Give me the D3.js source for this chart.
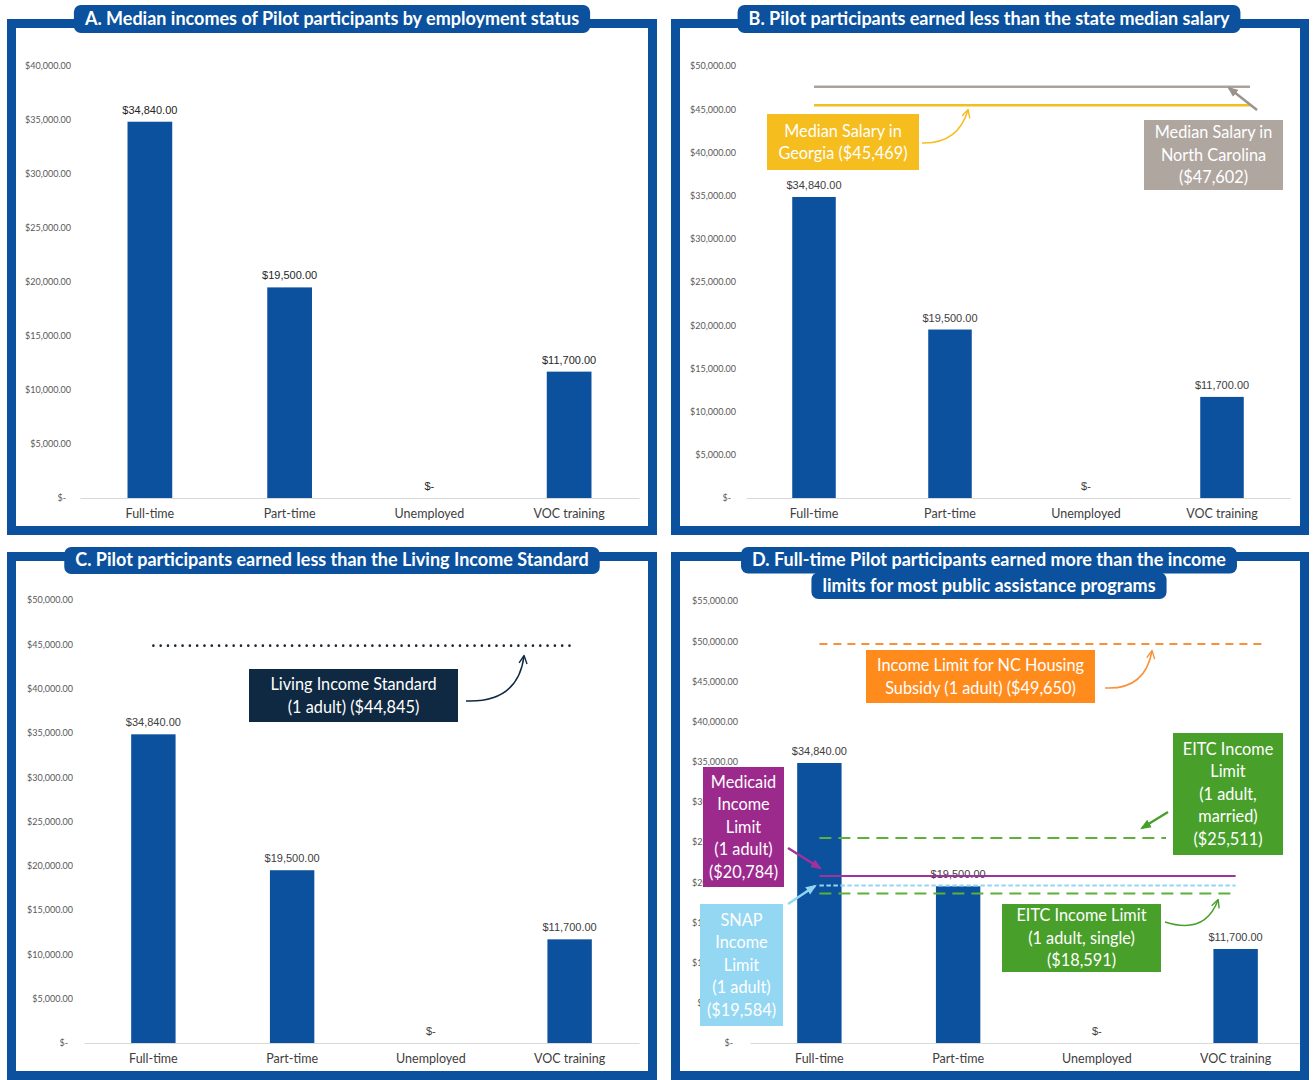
<!DOCTYPE html>
<html>
<head>
<meta charset="utf-8">
<script src="https://cdn.jsdelivr.net/npm/d3@7"></script>
<style>
  body { margin: 0; background: #fff; }
  svg { display: block; font-family: Lato, sans-serif; }
</style>
</head>
<body>
<svg id="chart" width="1313" height="1080"></svg>
<script>
// ---- data ----
const categories = ["Full-time", "Part-time", "Unemployed", "VOC training"];
const medianIncome = [34840, 19500, 0, 11700];

const ticksA = [0, 5000, 10000, 15000, 20000, 25000, 30000, 35000, 40000];
const ticksB = [0, 5000, 10000, 15000, 20000, 25000, 30000, 35000, 40000, 45000, 50000];
const ticksC = [0, 5000, 10000, 15000, 20000, 25000, 30000, 35000, 40000, 45000, 50000];
const ticksD = [0, 5000, 10000, 15000, 20000, 25000, 30000, 35000, 40000, 45000, 50000, 55000];

const salaryNames = ["North Carolina", "Georgia"];
const salaryValues = [47602, 45469];

const livingIncomeValues = [44845];

const limitNames = ["NC Housing Subsidy", "EITC married", "Medicaid", "SNAP", "EITC single"];
const limitValues = [49650, 25511, 20784, 19584, 18591];

// ---- helpers ----
const svg = d3.select("#chart");
const blue = "#0b519d";
const money = d3.format(",.2f");
const fmtTick = d => d === 0 ? "$-" : "$" + money(d);
const fmtLabel = d => d === 0 ? "$-" : "$" + money(d);

const defs = svg.append("defs");
let markerCount = 0;
function marker(color, filled) {
  const id = "m" + (markerCount++);
  const m = defs.append("marker")
    .attr("id", id)
    .attr("viewBox", "0 0 10 10")
    .attr("refX", filled ? 8 : 8.5)
    .attr("refY", 5)
    .attr("markerUnits", "userSpaceOnUse")
    .attr("markerWidth", filled ? 11 : 10)
    .attr("markerHeight", filled ? 11 : 10)
    .attr("orient", "auto");
  if (filled) {
    m.append("path").attr("d", "M0,1 L10,5 L0,9 z").attr("fill", color);
  } else {
    m.append("path").attr("d", "M1,1 L9,5 L1,9")
      .attr("fill", "none").attr("stroke", color).attr("stroke-width", 1.4);
  }
  return "url(#" + id + ")";
}

function drawPanel(p) {
  const g = svg.append("g");
  const [fx0, fy0, fx1, fy1] = p.frame;
  g.append("rect")
    .attr("x", fx0).attr("y", fy0)
    .attr("width", fx1 - fx0).attr("height", fy1 - fy0)
    .attr("fill", "#fff");

  const x = d3.scaleBand().domain(categories).range(p.xRange)
    .paddingInner(0.68).paddingOuter(0.34);
  const y = d3.scaleLinear().domain([0, p.yMax]).range(p.yRange);

  const ya = g.append("g")
    .attr("transform", "translate(" + p.tickX + ",0)")
    .call(d3.axisLeft(y).tickValues(p.ticks).tickSize(0).tickPadding(0).tickFormat(fmtTick));
  ya.select(".domain").remove();
  ya.selectAll("text")
    .attr("font-family", "Lato, sans-serif").attr("font-size", 9).attr("fill", "#595959");
  ya.selectAll(".tick").filter(d => d === 0).select("text").attr("dx", -5);

  const xa = g.append("g")
    .attr("transform", "translate(0," + y(0) + ")")
    .call(d3.axisBottom(x).tickSize(0).tickPadding(11));
  xa.select(".domain").attr("stroke", "#d9d9d9");
  xa.selectAll("text")
    .attr("font-family", "Lato, sans-serif").attr("font-size", 12.5).attr("fill", "#404040");

  g.selectAll(".bar")
    .data(medianIncome)
    .join("rect")
    .attr("class", "bar")
    .attr("x", (d, i) => x(categories[i]))
    .attr("y", d => y(d))
    .attr("width", x.bandwidth())
    .attr("height", d => y(0) - y(d))
    .attr("fill", blue);

  g.selectAll(".val")
    .data(medianIncome)
    .join("text")
    .attr("class", "val")
    .attr("x", (d, i) => x(categories[i]) + x.bandwidth() / 2)
    .attr("y", d => y(d) - 8)
    .attr("text-anchor", "middle")
    .attr("font-family", "'Liberation Sans', Arial, sans-serif")
    .attr("font-size", 11)
    .attr("fill", p.labelColor)
    .text(fmtLabel);

  return { g, x, y, frame: p.frame };
}

// border goes on top so nothing leaks past the frame
function border(P) {
  const [fx0, fy0, fx1, fy1] = P.frame;
  P.g.append("rect")
    .attr("x", fx0 + 4.5).attr("y", fy0 + 4.5)
    .attr("width", fx1 - fx0 - 9).attr("height", fy1 - fy0 - 9)
    .attr("fill", "none").attr("stroke", blue).attr("stroke-width", 9);
}

function titlePill(cx, lines, top, rowH) {
  lines.forEach((line, i) => {
    const g = svg.append("g");
    const t = g.append("text")
      .attr("x", cx).attr("y", top + i * rowH + rowH / 2)
      .attr("dy", "0.36em")
      .attr("text-anchor", "middle")
      .attr("font-size", 18).attr("font-weight", "bold")
      .attr("fill", "#fff")
      .text(line);
    const w = t.node().getComputedTextLength() + 22;
    g.insert("rect", "text")
      .attr("x", cx - w / 2).attr("y", top + i * rowH)
      .attr("width", w).attr("height", rowH + 1)
      .attr("rx", 7)
      .attr("fill", blue);
  });
}

function labelBox(g, b) {
  g.append("rect")
    .attr("x", b.x0).attr("y", b.y0)
    .attr("width", b.x1 - b.x0).attr("height", b.y1 - b.y0)
    .attr("fill", b.fill);
  const cx = (b.x0 + b.x1) / 2, cy = (b.y0 + b.y1) / 2;
  const lh = 22.5;
  b.lines.forEach((line, i) => {
    g.append("text")
      .attr("x", cx)
      .attr("y", cy + (i - (b.lines.length - 1) / 2) * lh)
      .attr("dy", "0.36em")
      .attr("text-anchor", "middle")
      .attr("font-size", b.size || 16.3)
      .attr("fill", "#fff")
      .text(line);
  });
}

function arrow(g, pts, color, filled, width) {
  const d = pts.length === 3
    ? "M" + pts[0] + " Q" + pts[1] + " " + pts[2]
    : "M" + pts[0] + " L" + pts[1];
  g.append("path").attr("d", d)
    .attr("fill", "none").attr("stroke", color).attr("stroke-width", width || 1.5)
    .attr("marker-end", marker(color, filled));
}

function refLine(g, x, y, value, x1, style) {
  g.append("line")
    .attr("x1", x(categories[0]) + x.bandwidth() / 2).attr("x2", x1)
    .attr("y1", y(value)).attr("y2", y(value))
    .attr("stroke", style.color)
    .attr("stroke-width", style.width)
    .attr("stroke-dasharray", style.dash || null)
    .attr("stroke-linecap", style.cap || "butt");
}

const f = d3.format(",");

// ---- panel A ----
const A = drawPanel({ frame: [7, 19, 657, 535], xRange: [80, 639], yRange: [498, 66], yMax: 40000,
  ticks: ticksA, tickX: 71, labelColor: "#262626" });
border(A);
titlePill(332, ["A. Median incomes of Pilot participants by employment status"], 5, 27);

// ---- panel B ----
const B = drawPanel({ frame: [671, 19, 1309, 535], xRange: [746, 1290], yRange: [498, 66], yMax: 50000,
  ticks: ticksB, tickX: 736, labelColor: "#404040" });
{
  const vocC = B.x(categories[3]) + B.x.bandwidth() / 2;
  const styles = [{ color: "#aaa29c", width: 2.5 }, { color: "#f5be1f", width: 2.5 }];
  salaryValues.forEach((v, i) => refLine(B.g, B.x, B.y, v, vocC + 28, styles[i]));
  labelBox(B.g, { x0: 767, y0: 114, x1: 919, y1: 170, fill: "#f5bd1e",
    lines: ["Median Salary in", salaryNames[1] + " ($" + f(salaryValues[1]) + ")"] });
  labelBox(B.g, { x0: 1144, y0: 120, x1: 1283, y1: 190, fill: "#afa6a0",
    lines: ["Median Salary in", salaryNames[0], "($" + f(salaryValues[0]) + ")"] });
  arrow(B.g, [[922, 143], [958, 144], [968, 110]], "#f5be1f", false, 1.5);
  arrow(B.g, [[1257, 110], [1229, 88]], "#9a928c", true, 2.5);
}
border(B);
titlePill(989, ["B. Pilot participants earned less than the state median salary"], 5, 27);

// ---- panel C ----
const C = drawPanel({ frame: [7, 552, 657, 1080], xRange: [84, 639], yRange: [1043, 600], yMax: 50000,
  ticks: ticksC, tickX: 73, labelColor: "#404040" });
{
  const vocC = C.x(categories[3]) + C.x.bandwidth() / 2;
  refLine(C.g, C.x, C.y, livingIncomeValues[0], vocC, { color: "#1a2433", width: 2.6, dash: "0 7.3", cap: "round" });
  labelBox(C.g, { x0: 249, y0: 669, x1: 458, y1: 722, fill: "#0f2942",
    lines: ["Living Income Standard", "(1 adult) ($" + f(livingIncomeValues[0]) + ")"] });
  arrow(C.g, [[466, 701], [518, 703], [524, 656]], "#0f2942", false, 1.5);
}
border(C);
titlePill(332, ["C. Pilot participants earned less than the Living Income Standard"], 547, 26);

// ---- panel D ----
const D = drawPanel({ frame: [671, 552, 1309, 1080], xRange: [750, 1305], yRange: [1043, 601], yMax: 55000,
  ticks: ticksD, tickX: 738, labelColor: "#404040" });
{
  const vocC = D.x(categories[3]) + D.x.bandwidth() / 2;
  const styles = [
    { color: "#f7923a", width: 2, dash: "8 6", end: vocC + 27 },
    { color: "#5db13a", width: 2, dash: "12 7", end: 1166 },
    { color: "#a3309b", width: 2, end: vocC },
    { color: "#93d6f3", width: 2, dash: "4.5 2.5", end: vocC },
    { color: "#5db13a", width: 2, dash: "12 7", end: vocC }
  ];
  limitValues.forEach((v, i) => refLine(D.g, D.x, D.y, v, styles[i].end, styles[i]));
  labelBox(D.g, { x0: 866, y0: 650, x1: 1095, y1: 703, fill: "#ff8b1d",
    lines: ["Income Limit for NC Housing", "Subsidy (1 adult) ($" + f(limitValues[0]) + ")"] });
  labelBox(D.g, { x0: 703, y0: 767, x1: 784, y1: 887, fill: "#9c2a8d",
    lines: ["Medicaid", "Income", "Limit", "(1 adult)", "($" + f(limitValues[2]) + ")"] });
  labelBox(D.g, { x0: 700, y0: 904, x1: 783, y1: 1026, fill: "#94d7f3",
    lines: ["SNAP", "Income", "Limit", "(1 adult)", "($" + f(limitValues[3]) + ")"] });
  labelBox(D.g, { x0: 1173, y0: 733, x1: 1283, y1: 855, fill: "#48a02b",
    lines: ["EITC Income", "Limit", "(1 adult,", "married)", "($" + f(limitValues[1]) + ")"] });
  labelBox(D.g, { x0: 1002, y0: 904, x1: 1161, y1: 972, fill: "#48a02b",
    lines: ["EITC Income Limit", "(1 adult, single)", "($" + f(limitValues[4]) + ")"] });
  arrow(D.g, [[1105, 688], [1145, 690], [1152, 651]], "#f7923a", false, 1.5);
  arrow(D.g, [[788, 848], [820, 868]], "#a3309b", true, 2.5);
  arrow(D.g, [[788, 904], [815, 886]], "#93d6f3", true, 2.5);
  arrow(D.g, [[1168, 812], [1142, 828]], "#48a02b", true, 2.5);
  arrow(D.g, [[1165, 922], [1205, 935], [1218, 900]], "#48a02b", false, 1.5);
}
border(D);
titlePill(989, ["D. Full-time Pilot participants earned more than the income",
  "limits for most public assistance programs"], 547, 25.5);
</script>
</body>
</html>
